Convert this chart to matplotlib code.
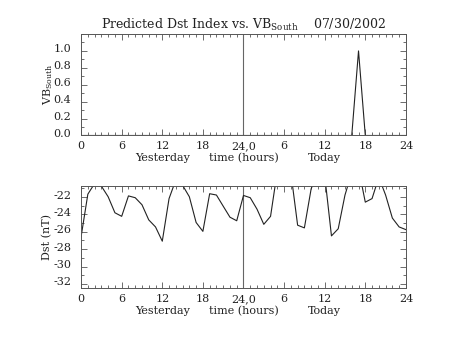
import matplotlib
matplotlib.use('Agg')
import matplotlib.pyplot as plt
from matplotlib.ticker import MultipleLocator
import matplotlib.transforms as mtrans

# hourly values, yesterday 0..23 then today 0..24 (x in hours 0..48)
hours = list(range(49))
vb_south = [0.0] * 40 + [0.0, 1.0, 0.0] + [0.0] * 6
dst = [-26.57, -21.67, -20.44, -20.75, -21.97, -23.81, -24.22, -21.87, -22.08, -22.89,
       -24.63, -25.44, -27.08, -22.18, -20.03, -20.65, -21.97, -24.93, -25.95, -21.62,
       -21.77, -23.05, -24.32, -24.73, -21.82, -22.08, -23.40, -25.14, -24.22, -19.01,
       -18.2, -19.2, -25.24, -25.55, -21.05, -19.2, -19.5, -26.47, -25.65, -21.77,
       -19.2, -18.7, -22.59, -22.18, -19.73, -21.77, -24.42, -25.44, -25.75]

xticks = [0, 6, 12, 18, 24, 30, 36, 42, 48]
xticklabels = ['0', '6', '12', '18', '24,0', '6', '12', '18', '24']
vb_ticks = [0.0, 0.2, 0.4, 0.6, 0.8, 1.0]
dst_ticks = [-32, -30, -28, -26, -24, -22]

plt.rcParams['font.family'] = 'DejaVu Serif'
plt.rcParams['mathtext.fontset'] = 'custom'
plt.rcParams['mathtext.rm'] = 'DejaVu Serif'
fs = 8
txt_col = '#222222'

fig = plt.figure(figsize=(4.53, 3.4), dpi=100)
ax1 = fig.add_axes([0.179, 0.6015, 0.717, 0.2985])
ax2 = fig.add_axes([0.179, 0.152, 0.717, 0.301])


def style(ax):
    ax.set_xlim(0, 48)
    ax.set_xticks(xticks)
    ax.set_xticklabels(xticklabels)
    ax.xaxis.set_minor_locator(MultipleLocator(1))
    ax.tick_params(which='both', direction='in', top=True, right=True,
                   labelsize=fs, colors='#555555', labelcolor=txt_col, width=0.6)
    ax.tick_params(which='major', length=4.5)
    ax.tick_params(axis='x', which='major', pad=4)
    ax.tick_params(axis='y', which='major', pad=7)
    ax.tick_params(which='minor', length=2.2)
    for s in ax.spines.values():
        s.set_linewidth(0.7)
        s.set_color('#555555')
    ax.axvline(24, color='#666666', lw=0.8)
    tr = mtrans.blended_transform_factory(ax.transData, ax.transAxes)
    for xpos, lab in [(12, 'Yesterday'), (24, 'time (hours)'), (36, 'Today')]:
        ax.text(xpos, -0.218, lab, transform=tr, ha='center', va='center',
                fontsize=fs, color=txt_col)


def lift_ylabels(ax):
    off = mtrans.ScaledTranslation(0, 2.5 / 100, fig.dpi_scale_trans)
    for lab in ax.get_yticklabels():
        lab.set_transform(lab.get_transform() + off)


style(ax1)
ax1.plot(hours, vb_south, color='#222222', lw=0.8)
ax1.set_ylim(0, 1.2)
ax1.set_yticks(vb_ticks)
ax1.set_yticklabels(['%.1f' % v for v in vb_ticks])
ax1.yaxis.set_minor_locator(MultipleLocator(0.1))
ax1.set_ylabel(r'VB$_{\mathrm{South}}$', fontsize=fs, color=txt_col)
ax1.yaxis.set_label_coords(-0.08, 0.5)
ax1.set_title(r'Predicted Dst Index vs. VB$_{\mathrm{South}}$    07/30/2002',
              fontsize=9, color=txt_col, pad=4)
lift_ylabels(ax1)

style(ax2)
ax2.plot(hours, dst, color='#222222', lw=0.8)
ax2.set_ylim(-32.5, -20.73)
ax2.set_yticks(dst_ticks)
ax2.set_yticklabels(['-%d' % abs(v) for v in dst_ticks])
ax2.yaxis.set_minor_locator(MultipleLocator(1))
ax2.set_ylabel('Dst (nT)', fontsize=fs, color=txt_col)
ax2.yaxis.set_label_coords(-0.089, 0.5)
lift_ylabels(ax2)

fig.savefig('out.png', dpi=100)
